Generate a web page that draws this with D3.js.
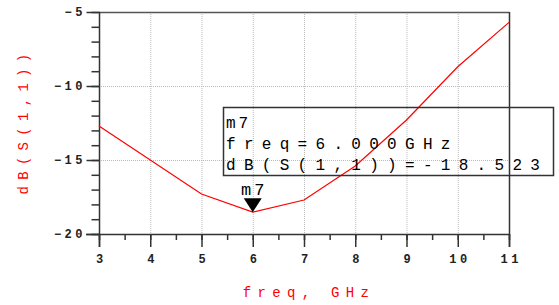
<!DOCTYPE html>
<html>
<head>
<meta charset="utf-8">
<script src="https://cdn.jsdelivr.net/npm/d3@7"></script>
<style>
  body { margin: 0; background: #fff; }
  svg { display: block; }
</style>
</head>
<body>
<svg id="chart" width="559" height="305"></svg>
<script>
// data
const freqs = [3, 4, 5, 6, 7, 8, 9, 10, 11];
const s11dB = [-12.7, -15.0, -17.3, -18.523, -17.7, -15.4, -12.3, -8.7, -5.7];
const xTicks = [3, 4, 5, 6, 7, 8, 9, 10, 11];
const yTicks = [-20, -15, -10, -5];
const markerFreq = 6;
const markerLines = ["m7", "freq=6.000GHz", "dB(S(1,1))=-18.523"];

const svg = d3.select("#chart");
const mono = "'Liberation Mono', 'DejaVu Sans Mono', monospace";

const x = d3.scaleLinear().domain([3, 11]).range([99, 509]);
const y = d3.scaleLinear().domain([-20, -5]).range([234, 12]);

// dotted grid
const grid = svg.append("g").attr("stroke", "#bbb").attr("stroke-dasharray", "1,1");
grid.selectAll("line.v")
  .data(xTicks.slice(1, -1))
  .join("line")
  .attr("x1", d => x(d) + 0.5).attr("x2", d => x(d) + 0.5)
  .attr("y1", 12).attr("y2", 234);
grid.selectAll("line.h")
  .data(yTicks.slice(1, -1))
  .join("line")
  .attr("x1", 99).attr("x2", 509)
  .attr("y1", d => y(d) + 0.5).attr("y2", d => y(d) + 0.5);

// frame: top and right
svg.append("line").attr("x1", 99).attr("x2", 509.5).attr("y1", 12.5).attr("y2", 12.5)
  .attr("stroke", "#555").attr("stroke-width", 1.5);
svg.append("line").attr("x1", 509.5).attr("x2", 509.5).attr("y1", 12).attr("y2", 247)
  .attr("stroke", "#333").attr("stroke-width", 1.5);

// axes
function styleAxis(g) {
  g.select(".domain").remove();
  g.selectAll(".tick line").attr("stroke", "#333").attr("stroke-width", 1.5);
}

svg.append("g").attr("transform", "translate(99.5,0)")
  .call(d3.axisLeft(y).ticks(15).tickSize(8).tickFormat(""))
  .call(styleAxis);
const yMajor = svg.append("g").attr("transform", "translate(99.5,0)")
  .call(d3.axisLeft(y).tickValues(yTicks).tickSize(13).tickPadding(4))
  .call(styleAxis);
yMajor.selectAll(".tick text")
  .attr("font-family", mono).attr("font-size", 12).attr("font-weight", "bold")
  .attr("letter-spacing", 3.5).attr("fill", "#222").attr("dx", 3.5);

svg.append("g").attr("transform", "translate(0,234)")
  .call(d3.axisBottom(x).ticks(16).tickSize(6).tickFormat(""))
  .call(styleAxis);
const xMajor = svg.append("g").attr("transform", "translate(0,234)")
  .call(d3.axisBottom(x).tickValues(xTicks).tickSize(13).tickPadding(7).tickFormat(d3.format("d")))
  .call(styleAxis);
xMajor.selectAll(".tick text")
  .attr("font-family", mono).attr("font-size", 12).attr("font-weight", "bold")
  .attr("letter-spacing", 3.5).attr("fill", "#222").attr("dx", 1.75);

// axis lines
svg.append("line").attr("x1", 99.5).attr("x2", 99.5).attr("y1", 12).attr("y2", 247)
  .attr("stroke", "#333").attr("stroke-width", 1.5);
svg.append("line").attr("x1", 86).attr("x2", 509.5).attr("y1", 234.5).attr("y2", 234.5)
  .attr("stroke", "#333").attr("stroke-width", 1.5);

// axis titles
svg.append("text")
  .attr("x", 306).attr("y", 297)
  .attr("text-anchor", "middle").attr("dx", 3)
  .attr("font-family", mono).attr("font-size", 14)
  .attr("letter-spacing", 6.3).attr("fill", "#f00")
  .text("freq, GHz");
svg.append("text")
  .attr("transform", "translate(28,124) rotate(-90)")
  .attr("text-anchor", "middle").attr("dx", 3)
  .attr("font-family", mono).attr("font-size", 14)
  .attr("letter-spacing", 6.3).attr("fill", "#f00")
  .text("dB(S(1,1))");

// trace
const line = d3.line().x((d, i) => x(freqs[i])).y(d => y(d));
svg.append("path")
  .datum(s11dB)
  .attr("d", line)
  .attr("fill", "none").attr("stroke", "#f00").attr("stroke-width", 1.2);

// marker
const mi = freqs.indexOf(markerFreq);
const mx = x(freqs[mi]), my = y(s11dB[mi]);
svg.append("path")
  .attr("d", `M${mx - 9},${my - 14}L${mx + 9},${my - 14}L${mx},${my}Z`)
  .attr("fill", "#000");
svg.append("text")
  .attr("x", mx).attr("y", my - 17).attr("text-anchor", "middle").attr("dx", 1.5)
  .attr("font-family", mono).attr("font-size", 17).attr("letter-spacing", 3)
  .attr("fill", "#000").text(markerLines[0]);

// marker readout box
svg.append("rect")
  .attr("x", 223.5).attr("y", 107.5).attr("width", 330).attr("height", 68)
  .attr("fill", "none").attr("stroke", "#333").attr("stroke-width", 1.5);
svg.append("g").selectAll("text")
  .data(markerLines)
  .join("text")
  .attr("x", 226).attr("y", (d, i) => 128 + i * 21)
  .attr("font-family", mono).attr("font-size", 16)
  .attr("letter-spacing", (d, i) => i === 0 ? 3 : 8.3)
  .attr("fill", "#000")
  .text(d => d);
</script>
</body>
</html>
